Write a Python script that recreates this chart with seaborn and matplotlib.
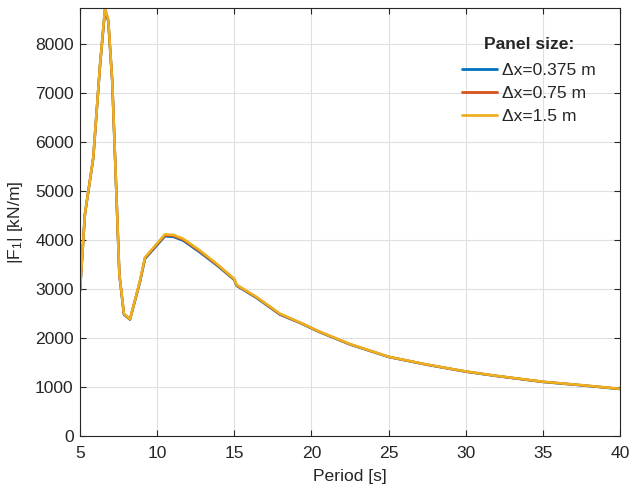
import numpy as np
import pandas as pd
import matplotlib
matplotlib.use("Agg")
import matplotlib.pyplot as plt
import seaborn as sns

# wave period [s]
period = [5.0, 5.32, 5.86, 6.30, 6.62, 6.83, 7.09, 7.55, 7.85, 8.24, 8.89, 9.21,
          10.5, 11.05, 11.7, 12.78, 13.86, 15.0, 15.15, 16.45, 17.96, 19.26,
          20.55, 22.5, 25.0, 27.5, 30.0, 32.0, 35.0, 37.5, 40.0]

# |F1| [kN/m] for each panel size
f1_0375 = [2960, 4530, 5680, 7580, 8700, 8480, 7240, 3300, 2480, 2380, 3150, 3620,
           4080, 4070, 3990, 3750, 3490, 3190, 3070, 2820, 2480, 2310,
           2120, 1870, 1615, 1455, 1315, 1225, 1105, 1035, 960]
f1_075 = [2962, 4535, 5685, 7590, 8720, 8500, 7250, 3305, 2488, 2385, 3165, 3635,
          4100, 4090, 4010, 3770, 3505, 3200, 3080, 2830, 2490, 2315,
          2125, 1875, 1618, 1458, 1318, 1228, 1108, 1038, 963]
f1_15 = [2965, 4540, 5690, 7600, 8740, 8515, 7260, 3315, 2495, 2390, 3180, 3650,
         4120, 4110, 4030, 3790, 3520, 3210, 3090, 2840, 2500, 2320,
         2130, 1880, 1620, 1460, 1320, 1230, 1110, 1040, 965]

labels = ["\u0394x=0.375 m", "\u0394x=0.75 m", "\u0394x=1.5 m"]
colors = ["#0072BD", "#D95319", "#EDB120"]

df = pd.concat([
    pd.DataFrame({"Period": period, "F1": f1_0375, "size": labels[0]}),
    pd.DataFrame({"Period": period, "F1": f1_075, "size": labels[1]}),
    pd.DataFrame({"Period": period, "F1": f1_15, "size": labels[2]}),
])

sns.set_style("ticks")
plt.rcParams["font.family"] = ["Liberation Sans", "DejaVu Sans"]
plt.rcParams["mathtext.fontset"] = "custom"
plt.rcParams["mathtext.rm"] = "Liberation Sans"
plt.rcParams["mathtext.it"] = "Liberation Sans"

fs = 12.6
txt = "#262626"

fig = plt.figure(figsize=(6.31, 4.95), dpi=100)
ax = fig.add_axes([80 / 631, 1 - 436 / 495, 540 / 631, 428 / 495])

sns.lineplot(data=df, x="Period", y="F1", hue="size", hue_order=labels,
             palette=colors, estimator=None, sort=False, linewidth=1.8, ax=ax)

ax.set_xlim(5, 40)
ax.set_ylim(0, 8745)
ax.set_xticks(np.arange(5, 41, 5))
ax.set_yticks(np.arange(0, 8001, 1000))
ax.grid(True, color="#e0e0e0", linewidth=0.8)
ax.set_axisbelow(True)
for s in ax.spines.values():
    s.set_color(txt)
    s.set_linewidth(0.8)
ax.tick_params(direction="in", length=4, width=0.8, color=txt,
               labelcolor=txt, labelsize=fs, top=True, right=True)
ax.tick_params(axis="x", pad=7)
ax.tick_params(axis="y", pad=4.5)

ax.set_xlabel("Period [s]", fontsize=fs, color=txt, labelpad=6)
ax.set_ylabel("|F$_1$| [kN/m]", fontsize=fs, color=txt)
ax.yaxis.set_label_coords(-0.1025, 0.5)

leg = ax.legend(title="Panel size:", loc="upper right", bbox_to_anchor=(0.985, 0.97),
                frameon=False, fontsize=fs, title_fontsize=fs,
                handlelength=2.0, handletextpad=0.3, labelspacing=0.45)
leg.get_title().set_fontweight("bold")
leg._legend_box.sep = 8
for h in leg.get_lines():
    h.set_linewidth(2.0)

fig.savefig("out.png", dpi=100)
